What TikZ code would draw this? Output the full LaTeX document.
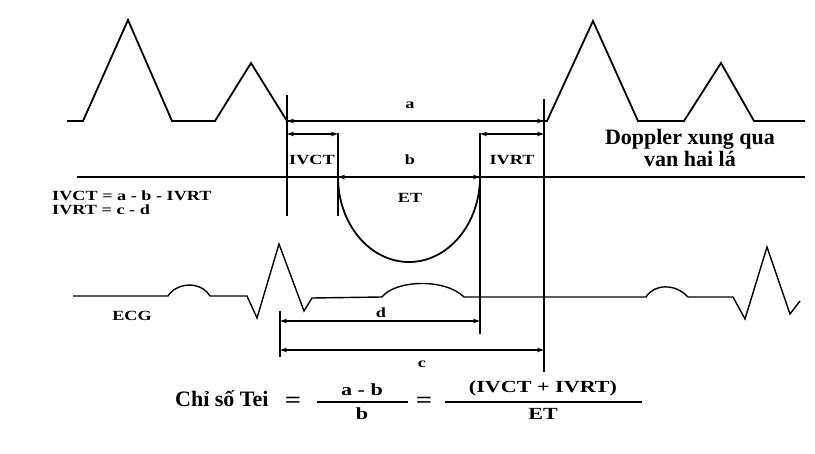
\documentclass[tikz,border=0pt]{standalone}
\usepackage{fontspec}
\setmainfont{Liberation Serif}
\usepackage{graphicx}
\usetikzlibrary{arrows.meta}
\newcommand{\wide}[1]{\scalebox{1.3}[1]{#1}}
\tikzset{
  trace/.style={line width=1.8pt, line join=miter},
  ecgtrace/.style={line width=1.4pt, line join=miter},
  marker/.style={line width=1.6pt},
  dim/.style={{Stealth[length=7pt,width=4.5pt]}-{Stealth[length=7pt,width=4.5pt]}, line width=1.1pt},
  lbl/.style={font=\bfseries\fontsize{14}{14}\selectfont, inner sep=0pt},
  fraclbl/.style={font=\bfseries\fontsize{17}{17}\selectfont, inner sep=0pt},
  bigtext/.style={font=\bfseries\fontsize{22}{22}\selectfont, align=center, inner sep=0pt}
}
\begin{document}
\begin{tikzpicture}[x=1pt, y=1pt]
\useasboundingbox (0,0) rectangle (815,-454);
% Doppler qua van hai la
\draw[trace] (67,-121) -- (83,-121) -- (128,-20) -- (172,-121) -- (215,-121) -- (251,-63) -- (287,-121)
  -- (547,-121) -- (593,-21) -- (638,-121) -- (684,-121) -- (721,-63) -- (754,-121) -- (805,-121);
\draw[trace] (77,-177) -- (805,-177);
\draw[trace] (338,-177) arc[start angle=180, end angle=360, x radius=71, y radius=85];
% ECG
\draw[ecgtrace] (73,-296) -- (168,-296) .. controls (176,-283) and (200,-280) .. (210,-296) -- (247,-296)
  -- (257,-318) -- (279,-244) -- (304,-311) -- (312,-298) -- (382,-297)
  .. controls (395,-280) and (445,-278) .. (464,-297) -- (646,-297)
  .. controls (654,-284) and (675,-283) .. (688,-297) -- (733,-297)
  -- (745,-319) -- (767,-247) -- (790,-314) -- (800,-301);
% vach moc
\coordinate (ivcttop) at (287,-95);
\coordinate (ivctbot) at (287,-216);
\coordinate (ettop) at (338,-133);
\coordinate (etbot) at (338,-216);
\coordinate (endtop) at (480,-133);
\coordinate (endbot) at (480,-334);
\coordinate (mvtop) at (544,-99);
\coordinate (mvbot) at (544,-372);
\coordinate (ecgtop) at (280,-311);
\coordinate (ecgbot) at (280,-357);
\draw[marker] (ivcttop) -- (ivctbot);
\draw[marker] (ettop) -- (etbot);
\draw[marker] (endtop) -- (endbot);
\draw[marker] (mvtop) -- (mvbot);
\draw[marker] (ecgtop) -- (ecgbot);
% khoang thoi gian
\coordinate (a1) at (287,-121);
\coordinate (a2) at (544,-121);
\coordinate (ivct1) at (287,-134);
\coordinate (ivct2) at (338,-134);
\coordinate (ivrt1) at (480,-134);
\coordinate (ivrt2) at (544,-134);
\coordinate (b1) at (338,-177);
\coordinate (b2) at (480,-177);
\coordinate (d1) at (280,-321);
\coordinate (d2) at (480,-321);
\coordinate (c1) at (280,-350);
\coordinate (c2) at (544,-350);
\draw[dim] (a1) -- (a2);
\draw[dim] (ivct1) -- (ivct2);
\draw[dim] (ivrt1) -- (ivrt2);
\draw[dim] (b1) -- (b2);
\draw[dim] (d1) -- (d2);
\draw[dim] (c1) -- (c2);
\node[lbl] (lbla) at (410,-105) {\wide{a}};
\node[lbl] (lblivct) at (312,-160) {\wide{IVCT}};
\node[lbl] (lblb) at (410,-160) {\wide{b}};
\node[lbl] (lblivrt) at (512,-160) {\wide{IVRT}};
\node[lbl] (lblet) at (410,-198) {\wide{ET}};
\node[lbl] (lblecg) at (132,-316) {\wide{ECG}};
\node[lbl] (lbld) at (381,-313) {\wide{d}};
\node[lbl] (lblc) at (422,-364) {\wide{c}};
\node[lbl, anchor=west] (eqivct) at (52,-196) {\wide{IVCT = a - b - IVRT}};
\node[lbl, anchor=west] (eqivrt) at (52,-210) {\wide{IVRT = c - d}};
\node[bigtext] (doppler) at (690,-148) {Doppler xung qua\\van hai lá};
% chi so Tei
\node[font=\bfseries\fontsize{22}{22}\selectfont, inner sep=0pt, anchor=base west] (tei) at (175,-407) {Chỉ số Tei};
\node[font=\bfseries\fontsize{22}{22}\selectfont, inner sep=0pt] (eq1) at (293,-402) {\wide{=}};
\node[fraclbl] (num1) at (362,-390) {\wide{a - b}};
\node[fraclbl] (den1) at (362,-414) {\wide{b}};
\node[font=\bfseries\fontsize{22}{22}\selectfont, inner sep=0pt] (eq2) at (424,-402) {\wide{=}};
\node[fraclbl] (num2) at (543,-388) {\wide{(IVCT + IVRT)}};
\node[fraclbl] (den2) at (543,-414) {\wide{ET}};
\coordinate (bar1a) at (317,-402);
\coordinate (bar1b) at (408,-402);
\coordinate (bar2a) at (445,-402);
\coordinate (bar2b) at (642,-402);
\draw[line width=1.2pt] (bar1a) -- (bar1b);
\draw[line width=1.2pt] (bar2a) -- (bar2b);
\end{tikzpicture}
\end{document}
